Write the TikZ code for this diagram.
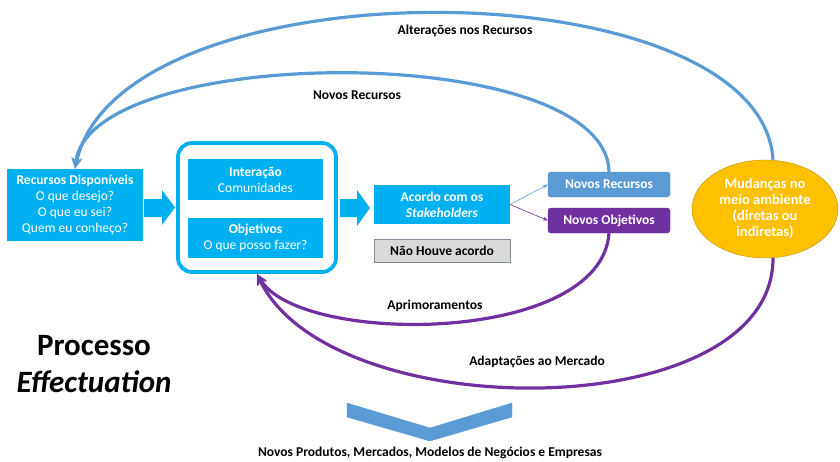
\documentclass[tikz,border=0pt]{standalone}
\usepackage{fontspec}
\setmainfont{Carlito}
\usetikzlibrary{arrows.meta,shapes.geometric}

\definecolor{cyanbox}{HTML}{00B0F0}
\definecolor{bluecurve}{HTML}{5B9BD5}
\definecolor{purplebox}{HTML}{7030A0}
\definecolor{goldell}{HTML}{FFC000}
\definecolor{goldedge}{HTML}{BF9000}
\definecolor{graybox}{HTML}{D9D9D9}
\definecolor{grayedge}{HTML}{7F8C99}

\tikzset{
    cbox/.style={fill=cyanbox, text=white, inner sep=0pt, align=center, font=\fontsize{13.5}{16}\selectfont},
    nbox/.style={rounded corners=3pt, text=white, inner sep=0pt, minimum width=122, minimum height=25, font=\bfseries\fontsize{13.5}{15}\selectfont},
    lbl/.style={inner sep=1pt, font=\bfseries\fontsize{13.5}{15}\selectfont},
    backarc/.style={line width=3.2pt, -{Stealth[length=11pt,width=10pt]}},
}

\begin{document}
\begin{tikzpicture}[x=1pt, y=-1pt]
            \useasboundingbox (0,0) rectangle (840,461);

            % Draw the boxes on the left
            \node[cbox, minimum width=136, minimum height=72] (rec) at (75,205) {\textbf{Recursos Disponíveis}\\O que desejo?\\O que eu sei?\\Quem eu conheço?};

            \node[draw=cyanbox, line width=3.8pt, rounded corners=14pt, minimum width=158, minimum height=129] (grp) at (257,207.5) {};
            \node[cbox, minimum width=135, minimum height=41] (inter) at (255.5,179.5) {\textbf{Interação}\\Comunidades};
            \node[cbox, minimum width=135, minimum height=40] (obj) at (255.5,238) {\textbf{Objetivos}\\O que posso fazer?};

            % Draw the block arrows
            \fill[cyanbox] (144,199) -- (162,199) -- (162,190) -- (175,207.5) -- (162,225) -- (162,217) -- (144,217) -- cycle;
            \fill[cyanbox] (340,199) -- (357,199) -- (357,190) -- (370,208) -- (357,226) -- (357,217) -- (340,217) -- cycle;

            % Draw the boxes in the middle
            \node[cbox, minimum width=136, minimum height=39] (acordo) at (442,204.5) {\textbf{Acordo com os}\\\textbf{\textit{Stakeholders}}};
            \node[draw=grayedge, fill=graybox, inner sep=0pt, minimum width=136, minimum height=23, font=\bfseries\fontsize{13.5}{15}\selectfont] (nao) at (442,250.5) {Não Houve acordo};

            \node[nbox, fill=bluecurve, draw=bluecurve!85!black] (nrec) at (609,184.5) {Novos Recursos};
            \node[nbox, fill=purplebox, draw=purplebox!85!black] (nobj) at (609,220.5) {Novos Objetivos};

            \node[ellipse, fill=goldell, draw=goldedge, inner sep=0pt, minimum width=146, minimum height=98, text=white, align=center, font=\bfseries\fontsize{14.5}{16}\selectfont] (mud) at (765,209) {Mudanças no\\meio ambiente\\(diretas ou\\indiretas)};

            % Draw the thin arrows
            \draw[bluecurve, line width=0.6pt, -{Stealth[length=5pt,width=4pt]}] (acordo.east) -- (nrec.west);
            \draw[purplebox, line width=0.6pt, -{Stealth[length=5pt,width=4pt]}] (acordo.east) -- (nobj.west);

            % Draw the curves going back
            \draw[backarc, bluecurve] ([xshift=8pt]mud.north) .. controls +(-12,-195) and +(45,-208) .. (rec.north);
            \draw[backarc, bluecurve] (nrec.north) .. controls +(-3,-132) and +(15,-126) .. (rec.north);
            \draw[backarc, purplebox] (nobj.south) .. controls +(-8,112) and +(43,72) .. (grp.south);
            \draw[backarc, purplebox] ([xshift=8pt]mud.south) .. controls +(0,169) and +(73,154) .. (grp.south);

            \node[lbl] (lalt) at (465,31) {Alterações nos Recursos};
            \node[lbl] (lnrec) at (357,95) {Novos Recursos};
            \node[lbl] (lapr) at (435,306) {Aprimoramentos};
            \node[lbl] (ladp) at (537,362) {Adaptações ao Mercado};

            % Draw the title
            \node[align=center, font=\bfseries\fontsize{31}{37}\selectfont] (title) at (94,364) {Processo\\\textit{Effectuation}};

            % Draw the chevron
            \filldraw[fill=bluecurve, draw=bluecurve] (347,403) -- (430,428) -- (512,403) -- (512,417) -- (430,441) -- (347,417) -- cycle;

            \node[lbl] (saida) at (430,453) {Novos Produtos, Mercados, Modelos de Negócios e Empresas};
\end{tikzpicture}
\end{document}
